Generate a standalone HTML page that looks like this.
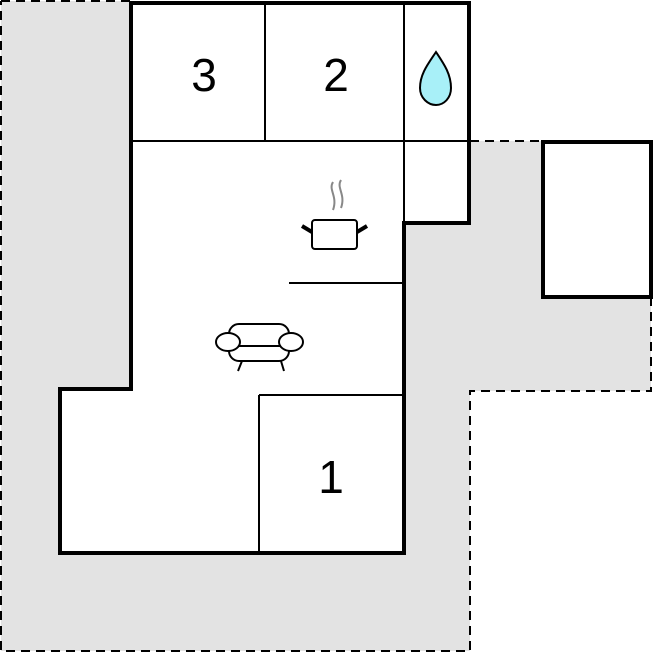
<!DOCTYPE html>
<html><head><style>body{margin:0;background:#fff}</style></head><body>
<svg width="653" height="652" viewBox="0 0 653 652" xmlns="http://www.w3.org/2000/svg">
<path d="M1,1 H131 V141 H651 V391 H470 V651 H1 Z" fill="#e3e3e3"/>
<path d="M1,1 H131 M470,141 H543 M651,297 V391 H470 V651 H1 V1" fill="none" stroke="#000" stroke-width="2" stroke-dasharray="9,6"/>
<path d="M131,3 H469 V223 H404 V553 H60 V389 H131 Z" fill="#fff" stroke="#000" stroke-width="4"/>
<rect x="543" y="142" width="108" height="155" fill="#fff" stroke="#000" stroke-width="4"/>
<g stroke="#000" stroke-width="2" fill="none">
<path d="M131,141 H469 M265,3 V141 M404,3 V223 M289,283 H402 M259,395 H404 M259,395 V553"/>
</g>
<g font-family="Liberation Sans, sans-serif" font-size="46" text-anchor="middle" fill="#000">
<text x="204" y="91">3</text><text x="336" y="91">2</text><text x="331" y="493">1</text>
</g>
<path d="M436,52 C444,64 451,74 451,88 C451,98 444,105 436,105 C428,105 420,98 420,88 C420,74 428,64 436,52 Z" fill="#a8f0f8" stroke="#000" stroke-width="2"/>
<g fill="none" stroke="#888" stroke-width="2">
<path d="M333,182 C328,190 338,196 333,210"/><path d="M341,180 C336,188 346,194 341,208"/>
</g>
<rect x="312" y="220" width="45" height="29" rx="3" fill="#fff" stroke="#000" stroke-width="2"/>
<path d="M312,232 L302,226 M357,232 L367,226" stroke="#000" stroke-width="4"/>
<g fill="#fff" stroke="#000" stroke-width="2">
<rect x="229" y="324" width="60" height="37" rx="10"/>
<ellipse cx="228" cy="342" rx="12" ry="9"/><ellipse cx="291" cy="342" rx="12" ry="9"/>
<path d="M238,346 H281"/><path d="M242,361 L238,371 M281,361 L284,371"/>
</g>
</svg>
</body></html>
